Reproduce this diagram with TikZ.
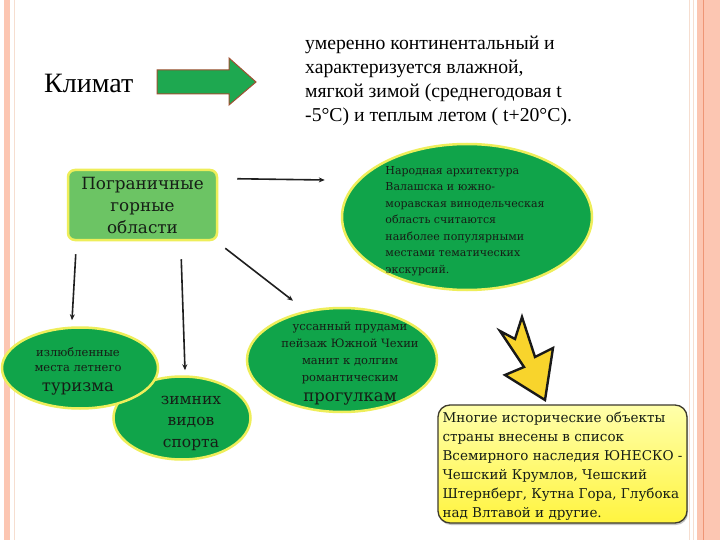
\documentclass[tikz,border=0pt]{standalone}
\usepackage{fontspec}
\setmainfont{Liberation Serif}
\newfontfamily\ef{DejaVu Serif}
\usetikzlibrary{shapes.geometric,shadows,calc,arrows.meta}
\definecolor{salmon}{RGB}{252,198,178}
\definecolor{salmondark}{RGB}{238,150,118}
\definecolor{peach}{RGB}{246,222,208}
\definecolor{egreen}{RGB}{16,164,74}
\definecolor{lgreen}{RGB}{108,196,100}
\definecolor{eyellow}{RGB}{238,238,90}
\definecolor{agreen}{RGB}{30,168,80}
\definecolor{abrown}{RGB}{160,80,50}
\definecolor{bolt}{RGB}{248,212,44}
\definecolor{boxtop}{RGB}{255,255,170}
\definecolor{boxbot}{RGB}{255,244,64}
\definecolor{ink}{RGB}{22,30,22}
\begin{document}
\begin{tikzpicture}[x=1pt,y=-1pt,
  ell/.style={ellipse, fill=egreen, draw=eyellow, line width=2.5pt, inner sep=0pt},
  etext/.style={font=\ef, text=ink, align=center, inner sep=0pt},
  arr/.style={-{Stealth[length=6pt,width=5pt]}, line width=1.6pt, draw=black!88},
  pgbox/.style={rectangle, rounded corners=7pt, fill=lgreen, draw=eyellow, line width=2.5pt,
    minimum width=149pt, minimum height=70pt, inner sep=0pt, font=\ef, text=ink, align=center},
  ybox/.style={rectangle, rounded corners=12pt, top color=boxtop, bottom color=boxbot,
    draw=black!75!olive, line width=1.3pt, minimum width=249pt, minimum height=118pt,
    drop shadow={shadow xshift=1pt, shadow yshift=-2pt, fill=black!45}}]
\useasboundingbox (0,0) rectangle (720,540);
\fill[white] (0,0) rectangle (720,540);
% page stripes
\fill[salmon] (4,0) rectangle (9.5,540);
\draw[peach, line width=0.8pt] (14,0) -- (14,540);
\draw[peach, line width=1pt] (689.5,0) -- (689.5,540);
\draw[peach, line width=1pt] (693.5,0) -- (693.5,540);
\fill[salmon] (697,0) rectangle (720,540);
\draw[salmondark, line width=1pt] (703,0) -- (703,540);

% Klimat
\node[anchor=west, inner sep=0pt, font=\fontsize{28}{32}\selectfont] (klimat) at (44,83) {Климат};
% green arrow
\draw[fill=agreen, draw=abrown, line width=1pt, line join=miter]
  (157,70) -- (229,70) -- (229,58) -- (256,82) -- (229,105) -- (229,94) -- (157,94) -- cycle;
% top text
\node[anchor=north west, inner sep=0pt, align=left, font=\fontsize{19.7}{23.8}\selectfont] (climtext) at (305,36)
  {умеренно континентальный и\\характеризуется влажной,\\мягкой зимой (среднегодовая t\\-5°C) и теплым летом ( t+20°C).};

% big ellipse
\node[ell, minimum width=250pt, minimum height=146pt] (big) at (467,217) {};
\node[etext, align=left, font=\ef\fontsize{11}{16.5}\selectfont] (bigtext) at ([shift={(-2,4)}]big.center)
  {Народная архитектура\\Валашска и южно-\\моравская винодельческая\\область считаются\\наиболее популярными\\местами тематических\\экскурсий.};

% Pogranichnye box
\node[pgbox, font=\ef\fontsize{16.8}{22}\selectfont] (pg) at (142.5,205) {Пограничные\\горные\\области};

% zimnih ellipse
\node[ell, minimum width=137pt, minimum height=83pt] (zim) at (182,418) {};
\node[etext, font=\ef\fontsize{15.5}{21.5}\selectfont] at ([shift={(9,5)}]zim.center) {зимних\\видов\\спорта};

% izl ellipse
\node[ell, minimum width=156pt, minimum height=81pt] (izl) at (80,368) {};
\node[etext, font=\ef\fontsize{11.5}{15}\selectfont] at ([shift={(-2,3)}]izl.center)
  {излюбленные\\места летнего\\[5pt]{\fontsize{16.5}{16.5}\selectfont туризма}};

% ussanny ellipse
\node[ell, minimum width=190pt, minimum height=104pt] (uss) at (342,360) {};
\node[etext, font=\ef\fontsize{11.5}{17}\selectfont] at ([shift={(8,4)}]uss.center)
  {уссанный прудами\\пейзаж Южной Чехии\\манит к долгим\\романтическим\\[3pt]{\fontsize{16.5}{16.5}\selectfont прогулкам}};

% connectors
\draw[arr] ([shift={(19,10)}]pg.north east) -- ([shift={(-16,-37)}]big.west);
\draw[arr] ([shift={(7,7)}]pg.south east) -- ([shift={(-49,-6)}]uss.north);
\draw[arr] ([shift={(9,13)}]pg.south west) -- ([shift={(-8,-6)}]izl.north);
\draw[arr] ([shift={(-37,18)}]pg.south east) -- ([shift={(3,-5)}]zim.north);

% lightning arrow
\draw[fill=bolt, draw=black!90, line width=2.4pt, line join=miter]
  (500,331) -- (515,339) -- (522,317) -- (535,357) -- (553,348)
  -- (545,400) -- (505,375) -- (524,367) -- cycle;

% yellow box
\node[ybox] (unesco) at (562.5,464) {};
\node[anchor=west, inner sep=0pt, align=left, font=\ef\fontsize{13.5}{19}\selectfont, text=ink] (unescotext)
  at ([shift={(5,2)}]unesco.west)
  {Многие исторические объекты\\страны внесены в список\\Всемирного наследия ЮНЕСКО -\\Чешский Крумлов, Чешский\\Штернберг, Кутна Гора, Глубока\\над Влтавой и другие.};
\end{tikzpicture}
\end{document}
